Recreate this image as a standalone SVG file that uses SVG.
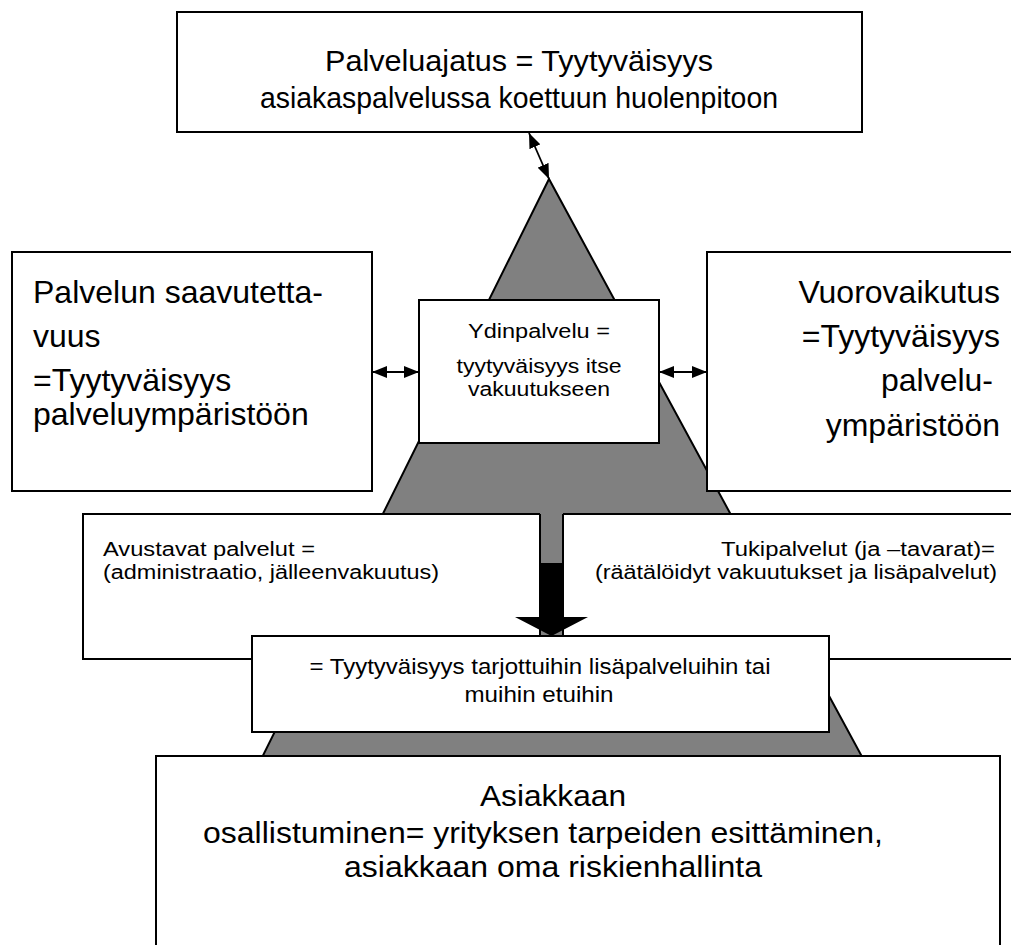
<svg xmlns="http://www.w3.org/2000/svg" width="1011" height="945" viewBox="0 0 1011 945">
  <defs>
    <style>
      .box{fill:#fff;stroke:#000;stroke-width:2}
      .txt{font-family:"Liberation Sans",Arial,Helvetica,sans-serif;fill:#000}
      .f32{font-size:32px}
      .f29{font-size:29px}
      .f22{font-size:22px}
      .f20{font-size:20px}
      .mid{text-anchor:middle}
      .end{text-anchor:end}
      .link{stroke:#000;stroke-width:1.8;fill:none;marker-start:url(#head);marker-end:url(#head)}
    </style>
    <marker id="head" viewBox="0 0 15 12" refX="15" refY="6" markerWidth="15" markerHeight="12" markerUnits="userSpaceOnUse" orient="auto-start-reverse">
      <path d="M0,0 L15,6 L0,12 z" fill="#000"/>
    </marker>
  </defs>

  <rect width="1011" height="945" fill="#fff"/>

  <!-- grey pyramid behind all boxes -->
  <g id="pyramid">
    <polygon points="549,179 169,945 964,945" fill="#808080" stroke="#000" stroke-width="2"/>
  </g>

  <g id="palveluajatus">
    <rect class="box" x="177" y="12" width="685" height="120"/>
    <text class="txt f29 mid" x="519" y="71" textLength="388" lengthAdjust="spacingAndGlyphs">Palveluajatus = Tyytyväisyys</text>
    <text class="txt f29 mid" x="519" y="108" textLength="518" lengthAdjust="spacingAndGlyphs">asiakaspalvelussa koettuun huolenpitoon</text>
  </g>

  <g id="saavutettavuus">
    <rect class="box" x="12" y="252" width="360" height="239"/>
    <text class="txt f32" x="33" y="303">Palvelun saavutetta-</text>
    <text class="txt f32" x="33" y="347">vuus</text>
    <text class="txt f32" x="33" y="391">=Tyytyväisyys</text>
    <text class="txt f32" x="33" y="425">palveluympäristöön</text>
  </g>

  <g id="vuorovaikutus">
    <rect class="box" x="707" y="252" width="330" height="239"/>
    <text class="txt f32 end" x="1000" y="303">Vuorovaikutus</text>
    <text class="txt f32 end" x="1000" y="347">=Tyytyväisyys</text>
    <text class="txt f32 end" x="993" y="391">palvelu-</text>
    <text class="txt f32 end" x="1000" y="436">ympäristöön</text>
  </g>

  <g id="ydinpalvelu">
    <rect class="box" x="419" y="300" width="240" height="143"/>
    <text class="txt f20 mid" x="539" y="338" textLength="142" lengthAdjust="spacingAndGlyphs">Ydinpalvelu =</text>
    <text class="txt f20 mid" x="539" y="373" textLength="165" lengthAdjust="spacingAndGlyphs">tyytyväisyys itse</text>
    <text class="txt f20 mid" x="539" y="396" textLength="142" lengthAdjust="spacingAndGlyphs">vakuutukseen</text>
  </g>

  <g id="avustavat-tukipalvelut">
    <rect class="box" x="83" y="514" width="950" height="145"/>
    <text class="txt f20" x="103" y="556" textLength="212" lengthAdjust="spacingAndGlyphs">Avustavat palvelut =</text>
    <text class="txt f20" x="103" y="579" textLength="336" lengthAdjust="spacingAndGlyphs">(administraatio, jälleenvakuutus)</text>
    <text class="txt f20 end" x="995" y="556" textLength="274" lengthAdjust="spacingAndGlyphs">Tukipalvelut (ja –tavarat)=</text>
    <text class="txt f20 end" x="997" y="579" textLength="402" lengthAdjust="spacingAndGlyphs">(räätälöidyt vakuutukset ja lisäpalvelut)</text>
  </g>

  <!-- pyramid stem through the support-services box, with the downward block arrow -->
  <g id="stem">
    <rect x="540" y="512" width="23" height="124" fill="#808080"/>
    <path d="M540,514 V636 M563,514 V636" stroke="#000" stroke-width="2"/>
    <path d="M540,563 H563 V617 H588 L551.5,636 L515,617 H540 Z" fill="#000"/>
  </g>

  <g id="lisapalvelut">
    <rect class="box" x="252" y="636" width="577" height="96"/>
    <text class="txt f22 mid" x="540" y="674" textLength="461" lengthAdjust="spacingAndGlyphs">= Tyytyväisyys tarjottuihin lisäpalveluihin tai</text>
    <text class="txt f22 mid" x="539" y="702" textLength="149" lengthAdjust="spacingAndGlyphs">muihin etuihin</text>
  </g>

  <g id="osallistuminen">
    <rect class="box" x="156" y="756" width="844" height="200"/>
    <text class="txt f29 mid" x="553" y="806" textLength="146" lengthAdjust="spacingAndGlyphs">Asiakkaan</text>
    <text class="txt f29" x="203" y="843" textLength="680" lengthAdjust="spacingAndGlyphs">osallistuminen= yrityksen tarpeiden esittäminen,</text>
    <text class="txt f29 mid" x="553" y="877" textLength="418" lengthAdjust="spacingAndGlyphs">asiakkaan oma riskienhallinta</text>
  </g>

  <g id="connectors">
    <line class="link" x1="529" y1="133" x2="549" y2="179"/>
    <line class="link" x1="372" y1="372" x2="419" y2="372"/>
    <line class="link" x1="659" y1="372" x2="707" y2="372"/>
  </g>
</svg>
